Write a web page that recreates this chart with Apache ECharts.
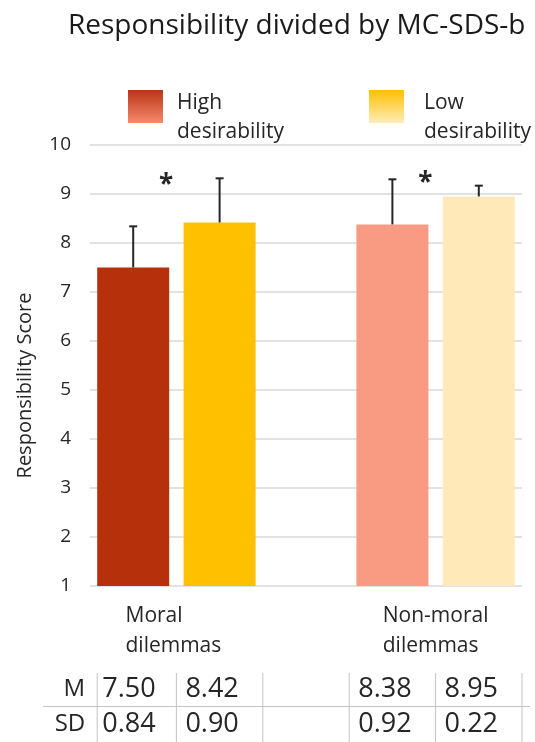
<!DOCTYPE html>
<html>
<head>
<meta charset="utf-8">
<script src="https://cdn.jsdelivr.net/npm/echarts@6/dist/echarts.min.js"></script>
<style>
  html, body { margin: 0; padding: 0; background: #ffffff; }
  #chart { width: 535px; height: 742px; }
</style>
</head>
<body>
<div id="chart"></div>
<script>
// ---- data ----
const groups = ['Moral\ndilemmas', 'Non-moral\ndilemmas'];
const levels = ['High desirability', 'Low desirability'];
const highMean = [7.50, 8.38];
const highSD = [0.84, 0.92];
const lowMean = [8.42, 8.95];
const lowSD = [0.90, 0.22];
const tableRows = ['M', 'SD'];
const yMin = 1, yMax = 10, yStep = 1;

// ---- styling ----
const FONT = '"Open Sans", sans-serif';
const TEXT = '#262626';
const GRID = '#d9d9d9';
const barColors = [['#B5300B', '#FFC000'], ['#F99A82', '#FFE9B8']]; // [group][level]
const legendGrad = [
  new echarts.graphic.LinearGradient(0, 0, 0, 1, [
    { offset: 0, color: '#BA3418' }, { offset: 1, color: '#F68A6C' }]),
  new echarts.graphic.LinearGradient(0, 0, 0, 1, [
    { offset: 0, color: '#FFC000' }, { offset: 1, color: '#FFEDBA' }])
];

// Each group takes two slots (High, Low); an empty slot separates the groups.
const slotOf = (g, lvl) => g * 3 + lvl;
const slotCount = groups.length * 3 - 1;
const slots = Array.from({ length: slotCount }, (_, i) => 's' + i);

const means = [highMean, lowMean];
const sds = [highSD, lowSD];

function barData(lvl) {
  const arr = slots.map(() => '-');
  groups.forEach((_, g) => {
    arr[slotOf(g, lvl)] = { value: means[lvl][g], itemStyle: { color: barColors[g][lvl] } };
  });
  return arr;
}

const errData = [];
groups.forEach((_, g) => {
  [0, 1].forEach(lvl => errData.push([slotOf(g, lvl), means[lvl][g], sds[lvl][g]]));
});

const chart = echarts.init(document.getElementById('chart'), null, { renderer: 'canvas' });

// two-line legend labels; the uneven line boxes drop the text below the swatch centre
const legendRich = {
  t: { fontFamily: FONT, fontSize: 21, color: TEXT, lineHeight: 52 },
  b: { fontFamily: FONT, fontSize: 21, color: TEXT, lineHeight: 6 }
};
const legendBase = {
  orient: 'horizontal',
  icon: 'rect',
  itemWidth: 35,
  itemHeight: 33,
  padding: 0,
  selectedMode: false,
  formatter: n => { const [a, b] = n.split(' '); return '{t|' + a + '}\n{b|' + b + '}'; }
};
const legendText = pad => ({ fontFamily: FONT, fontSize: 21, color: TEXT, padding: [0, 0, 0, pad], rich: legendRich });

chart.setOption({
  animation: false,
  backgroundColor: '#ffffff',
  textStyle: { fontFamily: FONT },
  title: {
    text: 'Responsibility divided by MC-SDS-b',
    left: 63,
    top: 7,
    textStyle: { fontFamily: FONT, fontSize: 28, fontWeight: 'normal', color: '#1a1a1a' }
  },
  legend: [
    Object.assign({}, legendBase, { left: 128, top: 90, textStyle: legendText(9),
      data: [{ name: levels[0], itemStyle: { color: legendGrad[0] } }] }),
    Object.assign({}, legendBase, { left: 369, top: 90, textStyle: legendText(15),
      data: [{ name: levels[1], itemStyle: { color: legendGrad[1] } }] })
  ],
  grid: { left: 90, right: 13, top: 145, bottom: 156, containLabel: false },
  xAxis: {
    type: 'category',
    data: slots,
    axisLine: { show: false },
    axisTick: { show: false },
    axisLabel: { show: false },
    splitLine: { show: false }
  },
  yAxis: {
    type: 'value',
    min: yMin, max: yMax, interval: yStep,
    name: 'Responsibility Score',
    nameLocation: 'middle',
    nameRotate: 90,
    nameGap: 55,
    nameTextStyle: { fontFamily: FONT, fontSize: 20, color: TEXT, padding: [0, 40, 0, 0] },
    axisLine: { show: false },
    axisTick: { show: false },
    axisLabel: { fontFamily: FONT, fontSize: 19, color: TEXT, margin: 19 },
    splitLine: { lineStyle: { color: GRID, width: 1.5 } }
  },
  series: [
    { name: levels[0], type: 'bar', data: barData(0), barWidth: 72, barGap: '-100%',
      itemStyle: { color: legendGrad[0] } },
    { name: levels[1], type: 'bar', data: barData(1), barWidth: 72, barGap: '-100%',
      itemStyle: { color: legendGrad[1] } },
    {
      name: 'sd', type: 'custom', data: errData, encode: { x: 0, y: 1 }, z: 5,
      renderItem(params, api) {
        const x = api.value(0), m = api.value(1), s = api.value(2);
        const base = api.coord([x, m]);
        const top = api.coord([x, m + s]);
        const cap = 4;
        const st = { stroke: '#262626', lineWidth: 2 };
        return {
          type: 'group',
          children: [
            { type: 'line', shape: { x1: base[0], y1: base[1], x2: top[0], y2: top[1] }, style: st },
            { type: 'line', shape: { x1: top[0] - cap, y1: top[1], x2: top[0] + cap, y2: top[1] }, style: st }
          ]
        };
      }
    }
  ]
});

// ---- annotations and the summary table, placed through the axes ----
const px = i => chart.convertToPixel({ xAxisIndex: 0 }, i);
const py = v => chart.convertToPixel({ yAxisIndex: 0 }, v);
const slotW = px(1) - px(0);
const barW = 72;

const measure = (() => {
  const c = document.createElement('canvas').getContext('2d');
  return (txt, size) => { c.font = size + 'px ' + FONT; return Math.max(...txt.split('\n').map(t => c.measureText(t).width)); };
})();

const elements = [];

// significance stars between each pair of bars
[9.17, 9.22].forEach((lvl, g) => {
  elements.push({
    type: 'text', z: 10,
    x: px(slotOf(g, 0)) + slotW * 0.38, y: py(lvl),
    style: { text: '*', font: 'bold 26px ' + FONT, fill: TEXT, align: 'center', verticalAlign: 'middle' }
  });
});

// group labels under the bars
groups.forEach((name, g) => {
  const cx = (px(slotOf(g, 0)) + px(slotOf(g, 1))) / 2;
  const w = measure(name, 21);
  elements.push({
    type: 'text',
    x: cx - w / 2 - (g === 0 ? 3 : 0), y: py(yMin) + 15,
    style: { text: name, font: '21px ' + FONT, lineHeight: 30, fill: TEXT, align: 'left', verticalAlign: 'top' }
  });
});

// table of means and SDs
const rowY = [689, 724];
const sepY = 706.5;
const tableTop = 673, tableBottom = 742;
const bounds = [];
for (let i = 0; i <= slotCount; i++) bounds.push(px(i) - slotW / 2);
bounds[0] = px(0) - barW / 2;
const lineStyle = { stroke: '#c4c4c4', lineWidth: 1 };
elements.push({ type: 'line', shape: { x1: 43, y1: sepY, x2: 530, y2: sepY }, style: lineStyle });
bounds.forEach(b => {
  elements.push({ type: 'line', shape: { x1: b, y1: tableTop, x2: b, y2: tableBottom }, style: lineStyle });
});
const tableVals = [means, sds];
tableRows.forEach((label, r) => {
  elements.push({
    type: 'text', x: bounds[0] - 12, y: rowY[r],
    style: { text: label, font: '24px ' + FONT, fill: TEXT, align: 'right', verticalAlign: 'middle' }
  });
  groups.forEach((_, g) => {
    [0, 1].forEach(lvl => {
      const s = slotOf(g, lvl);
      elements.push({
        type: 'text', x: bounds[s] + (s === 0 ? 5 : 9), y: rowY[r],
        style: { text: tableVals[r][lvl][g].toFixed(2), font: '27px ' + FONT, fill: TEXT, align: 'left', verticalAlign: 'middle' }
      });
    });
  });
});

chart.setOption({ graphic: { elements } });
</script>
</body>
</html>
